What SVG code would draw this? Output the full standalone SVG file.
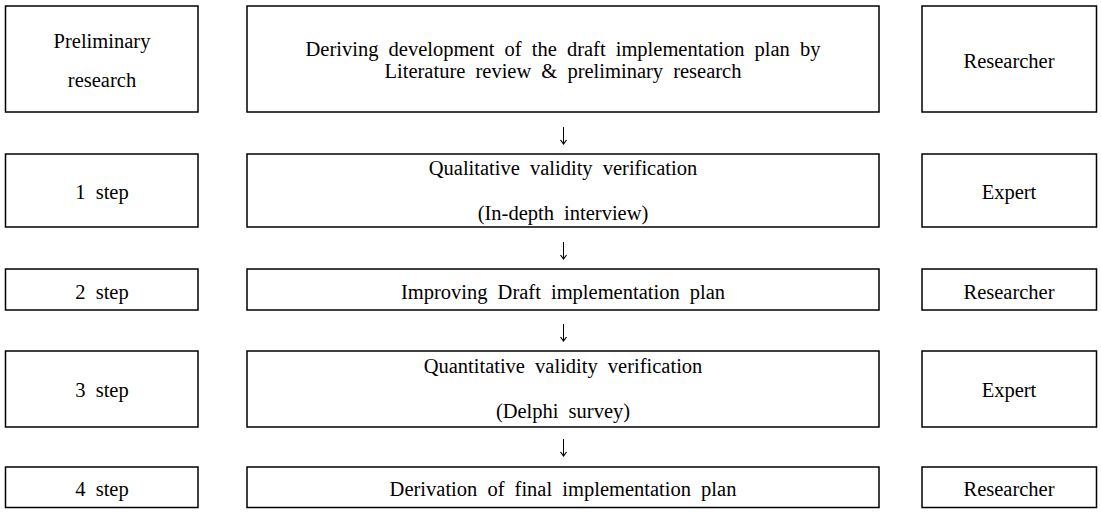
<svg xmlns="http://www.w3.org/2000/svg" width="1101" height="515" viewBox="0 0 1101 515">
<style>
rect.b{fill:#fff;stroke:#000;stroke-width:1.5}
text{font-family:'Liberation Serif','Times New Roman',serif;font-size:20.5px;fill:#000;text-anchor:middle;word-spacing:5px}
.c line{stroke:#000;stroke-width:1}
</style>
<defs>
<marker id="ah" markerWidth="8" markerHeight="8" refX="6" refY="4" orient="auto" markerUnits="userSpaceOnUse" viewBox="0 0 8 8">
<path d="M2,1 L6,4 L2,7" fill="none" stroke="#000" stroke-width="1.2"/>
</marker>
</defs>
<rect width="1101" height="515" fill="#fff"/>
<g id="n-pre-l"><rect class="b" x="5.5" y="6" width="192.5" height="106"/><text x="102" y="48" font-family="Liberation Serif, serif">Preliminary</text><text x="102" y="87" font-family="Liberation Serif, serif">research</text></g>
<g id="n-pre-m"><rect class="b" x="247" y="6" width="632" height="106"/><text x="563" y="56">Deriving development of the draft implementation plan by</text><text x="563" y="78">Literature review &amp; preliminary research</text></g>
<g id="n-pre-r"><rect class="b" x="922" y="6" width="174.5" height="106"/><text x="1009" y="68">Researcher</text></g>
<g id="n-1-l"><rect class="b" x="5.5" y="154" width="192.5" height="73"/><text x="102" y="199">1 step</text></g>
<g id="n-1-m"><rect class="b" x="247" y="154" width="632" height="73"/><text x="563" y="175">Qualitative validity verification</text><text x="563" y="220">(In-depth interview)</text></g>
<g id="n-1-r"><rect class="b" x="922" y="154" width="174.5" height="73"/><text x="1009" y="199">Expert</text></g>
<g id="n-2-l"><rect class="b" x="5.5" y="269" width="192.5" height="41"/><text x="102" y="299">2 step</text></g>
<g id="n-2-m"><rect class="b" x="247" y="269" width="632" height="41"/><text x="563" y="299">Improving Draft implementation plan</text></g>
<g id="n-2-r"><rect class="b" x="922" y="269" width="174.5" height="41"/><text x="1009" y="299">Researcher</text></g>
<g id="n-3-l"><rect class="b" x="5.5" y="351" width="192.5" height="76"/><text x="102" y="397">3 step</text></g>
<g id="n-3-m"><rect class="b" x="247" y="351" width="632" height="76"/><text x="563" y="373">Quantitative validity verification</text><text x="563" y="418">(Delphi survey)</text></g>
<g id="n-3-r"><rect class="b" x="922" y="351" width="174.5" height="76"/><text x="1009" y="397">Expert</text></g>
<g id="n-4-l"><rect class="b" x="5.5" y="467" width="192.5" height="40.5"/><text x="102" y="496">4 step</text></g>
<g id="n-4-m"><rect class="b" x="247" y="467" width="632" height="40.5"/><text x="563" y="496">Derivation of final implementation plan</text></g>
<g id="n-4-r"><rect class="b" x="922" y="467" width="174.5" height="40.5"/><text x="1009" y="496">Researcher</text></g>
<g class="c" id="connectors">
<line x1="563.5" y1="127" x2="563.5" y2="144" marker-end="url(#ah)"/>
<line x1="563.5" y1="242" x2="563.5" y2="259" marker-end="url(#ah)"/>
<line x1="563.5" y1="324" x2="563.5" y2="341" marker-end="url(#ah)"/>
<line x1="563.5" y1="439" x2="563.5" y2="456" marker-end="url(#ah)"/>
</g>
</svg>
